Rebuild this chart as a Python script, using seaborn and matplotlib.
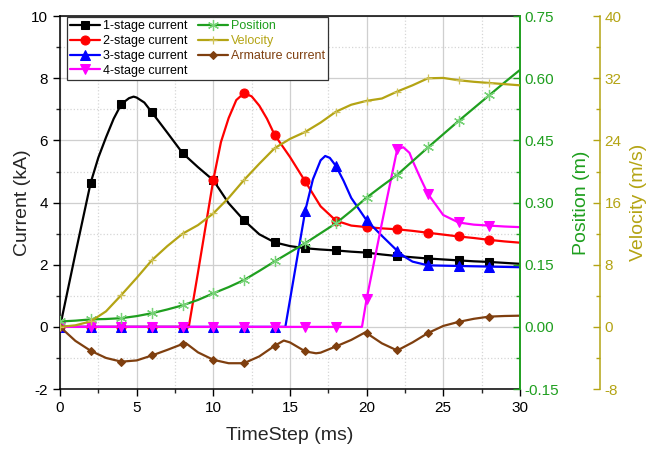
import matplotlib
matplotlib.use("Agg")
import matplotlib.pyplot as plt
import seaborn as sns
import numpy as np
from matplotlib.ticker import MultipleLocator

# ---- data (time in ms) ----
t_s1 = [0, 1, 2, 2.5, 3, 3.5, 4, 4.5, 4.8, 5, 5.5, 6, 7, 8, 9, 10, 11, 12, 13, 14, 15, 16, 17,
        18, 19, 20, 21, 22, 23, 24, 25, 26, 27, 28, 29, 30]
i_s1 = [0, 2.35, 4.64, 5.45, 6.1, 6.7, 7.17, 7.36, 7.41, 7.38, 7.22, 6.9, 6.25, 5.59, 5.14,
        4.72, 3.98, 3.43, 2.98, 2.72, 2.6, 2.53, 2.49, 2.46, 2.42, 2.39, 2.33, 2.28, 2.24, 2.2,
        2.17, 2.14, 2.11, 2.09, 2.06, 2.03]

t_s2 = [0, 2, 4, 6, 8, 8.4, 9, 10, 10.5, 11, 11.5, 12, 12.5, 13, 13.5, 14, 15, 16, 17, 18, 19,
        20, 21, 22, 23, 24, 25, 26, 27, 28, 29, 30]
i_s2 = [0, 0, 0, 0, 0, 0, 1.75, 4.73, 5.95, 6.72, 7.3, 7.52, 7.42, 7.12, 6.7, 6.18, 5.47, 4.68,
        3.88, 3.42, 3.26, 3.21, 3.17, 3.14, 3.09, 3.03, 2.97, 2.91, 2.86, 2.8, 2.75, 2.71]

t_s3 = [0, 2, 4, 6, 8, 10, 12, 14, 14.7, 15, 16, 16.5, 17, 17.3, 17.6, 18, 18.5, 19, 20, 21, 22,
        22.5, 23, 24, 25, 26, 27, 28, 29, 30]
i_s3 = [0, 0, 0, 0, 0, 0, 0, 0, 0, 0.86, 3.74, 4.75, 5.36, 5.5, 5.44, 5.18, 4.7, 4.15, 3.43,
        2.93, 2.45, 2.25, 2.1, 1.98, 1.97, 1.96, 1.95, 1.94, 1.93, 1.92]

t_s4 = [0, 2, 4, 6, 8, 10, 12, 14, 16, 18, 19.7, 20, 21, 22, 22.4, 22.8, 23, 23.5, 24, 25, 26,
        27, 28, 29, 30]
i_s4 = [0, 0, 0, 0, 0, 0, 0, 0, 0, 0, 0, 0.89, 3.34, 5.72, 5.78, 5.6, 5.35, 4.8, 4.28, 3.6,
        3.36, 3.29, 3.26, 3.23, 3.21]

t_arm = [0, 1, 2, 3, 4, 5, 6, 7, 8, 8.2, 9, 10, 11, 12, 13, 14, 14.6, 15, 16, 16.7, 17, 18, 19,
         19.9, 20, 21, 22, 23, 24, 25, 26, 27, 28, 29, 30]
i_arm = [0, -0.45, -0.77, -1.0, -1.12, -1.08, -0.92, -0.74, -0.55, -0.52, -0.82, -1.06, -1.17,
         -1.17, -0.95, -0.61, -0.44, -0.5, -0.79, -0.85, -0.83, -0.63, -0.42, -0.18, -0.2, -0.53,
         -0.76, -0.5, -0.2, 0.03, 0.16, 0.26, 0.33, 0.35, 0.36]

t_kin = list(range(0, 31))
position = [0.013, 0.015, 0.018, 0.019, 0.021, 0.026, 0.033, 0.042, 0.052, 0.065, 0.081, 0.096,
            0.113, 0.135, 0.158, 0.180, 0.202, 0.226, 0.250, 0.280, 0.312, 0.340, 0.367, 0.400,
            0.433, 0.465, 0.497, 0.528, 0.559, 0.590, 0.620]
velocity = [0.0, 0.2, 0.7, 2.0, 4.1, 6.3, 8.6, 10.4, 12.0, 13.1, 14.6, 16.6, 18.9, 21.0, 23.0,
            24.2, 25.1, 26.3, 27.7, 28.6, 29.1, 29.4, 30.3, 31.1, 32.0, 32.05, 31.75, 31.55, 31.4,
            31.25, 31.1]

mark_times = list(range(0, 29, 2))

GREEN = "#1f9f1f"
OLIVE = "#b4a414"
BROWN = "#7f3f0f"


def marks(t):
    return [i for i, v in enumerate(t) if v in mark_times]


sns.set_style("ticks")
plt.rcParams["font.family"] = ["Liberation Sans", "DejaVu Sans"]
plt.rcParams["axes.unicode_minus"] = False

fig = plt.figure(figsize=(6.49, 4.49), dpi=100)
fig.subplots_adjust(left=0.0925, right=0.801, bottom=0.1336, top=0.964)
ax = fig.add_subplot(111)
ax2 = ax.twinx()
ax3 = ax.twinx()

lw = 1.6
sns.lineplot(x=t_s1, y=i_s1, ax=ax, color="black", lw=lw, marker="s", ms=5.5,
             markevery=marks(t_s1), mec="black", sort=False)
sns.lineplot(x=t_s2, y=i_s2, ax=ax, color="red", lw=lw, marker="o", ms=6.5,
             markevery=marks(t_s2), mec="red", sort=False)
sns.lineplot(x=t_s3, y=i_s3, ax=ax, color="blue", lw=lw, marker="^", ms=6.5,
             markevery=marks(t_s3), mec="blue", sort=False)
sns.lineplot(x=t_s4, y=i_s4, ax=ax, color="magenta", lw=lw, marker="v", ms=6.5,
             markevery=marks(t_s4), mec="magenta", sort=False)
sns.lineplot(x=t_arm, y=i_arm, ax=ax, color=BROWN, lw=lw, marker="D", ms=4.5,
             markevery=marks(t_arm), mec=BROWN, sort=False)

sns.lineplot(x=t_kin, y=position, ax=ax2, color=GREEN, lw=lw, marker=(6, 2, 0), ms=8,
             markevery=marks(t_kin), mec="#77d277", mew=0.9, sort=False)
sns.lineplot(x=t_kin, y=velocity, ax=ax3, color=OLIVE, lw=lw, marker="+", ms=6,
             markevery=marks(t_kin), mec="#cfc25a", mew=0.9, sort=False)

# main axis
ax.set_xlim(0, 30)
ax.set_ylim(-2, 10)
ax.xaxis.set_major_locator(MultipleLocator(5))
ax.xaxis.set_minor_locator(MultipleLocator(2.5))
ax.yaxis.set_major_locator(MultipleLocator(2))
ax.yaxis.set_minor_locator(MultipleLocator(1))
ax.grid(True, which="major", color="#cfcfcf", lw=0.9, ls="-")
ax.grid(True, which="minor", color="#d6d6d6", lw=0.9, ls=":")
ax.set_axisbelow(True)
ax.tick_params(which="major", direction="out", length=5, width=1, labelsize=11, colors="black")
ax.tick_params(which="minor", direction="out", length=3, width=1)
ax.tick_params(axis="x", top=False, which="both")
ax.tick_params(axis="y", right=False, which="both")
for s in ["left", "bottom", "top"]:
    ax.spines[s].set_color("black")
    ax.spines[s].set_linewidth(1.1)
ax.spines["right"].set_visible(False)
ax.set_xlabel("TimeStep (ms)", fontsize=14, labelpad=9)
ax.set_ylabel("Current (kA)", fontsize=14, labelpad=0)

# position axis
ax2.set_ylim(-0.15, 0.75)
ax2.yaxis.set_major_locator(MultipleLocator(0.15))
ax2.yaxis.set_minor_locator(MultipleLocator(0.075))
ax2.yaxis.set_major_formatter(matplotlib.ticker.FormatStrFormatter("%.2f"))
ax2.tick_params(axis="y", which="major", direction="in", length=5, width=1, colors=GREEN,
                labelsize=11)
ax2.tick_params(axis="y", which="minor", direction="in", length=3, width=1, colors=GREEN)
for s in ["left", "bottom", "top"]:
    ax2.spines[s].set_visible(False)
ax2.spines["right"].set_color(GREEN)
ax2.spines["right"].set_linewidth(1.4)
ax2.set_ylabel("Position (m)", fontsize=14, color=GREEN, labelpad=10)

# velocity axis
ax3.set_ylim(-8, 40)
ax3.yaxis.set_major_locator(MultipleLocator(8))
ax3.yaxis.set_minor_locator(MultipleLocator(4))
ax3.spines["right"].set_position(("axes", 1.174))
ax3.tick_params(axis="y", which="major", direction="in", length=5, width=1, colors=OLIVE,
                labelsize=11)
ax3.tick_params(axis="y", which="minor", direction="in", length=3, width=1, colors=OLIVE)
for s in ["left", "bottom", "top"]:
    ax3.spines[s].set_visible(False)
ax3.spines["right"].set_color(OLIVE)
ax3.spines["right"].set_linewidth(1.1)
ax3.set_ylabel("Velocity (m/s)", fontsize=14, color=OLIVE, labelpad=6)

handles = ax.get_lines()[:4] + [ax2.get_lines()[0], ax3.get_lines()[0], ax.get_lines()[4]]
labels = ["1-stage current", "2-stage current", "3-stage current", "4-stage current",
          "Position", "Velocity", "Armature current"]
leg = ax3.legend(handles, labels, ncol=2, loc="upper left", bbox_to_anchor=(0.015, 0.997),
                 fontsize=9, frameon=True, fancybox=False, edgecolor="#333333",
                 framealpha=1, borderpad=0.25, labelspacing=0.22, handlelength=2.4,
                 handletextpad=0.25, columnspacing=0.8, borderaxespad=0,
                 labelcolor=["black"] * 4 + [GREEN, OLIVE, BROWN])
leg.get_frame().set_linewidth(0.9)

fig.savefig("out.png", dpi=100)
